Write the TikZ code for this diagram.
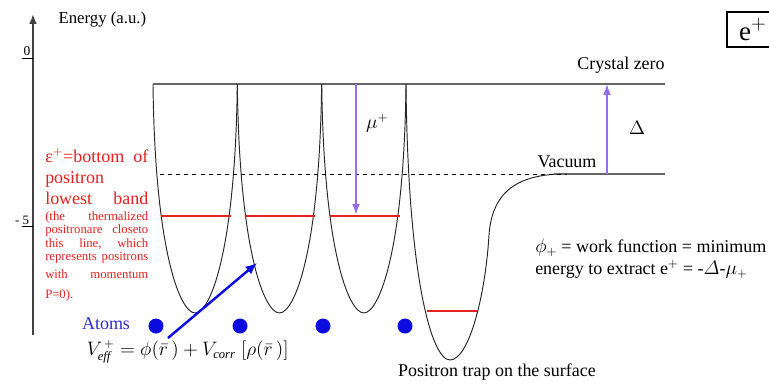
\documentclass[tikz,border=0pt]{standalone}
\usepackage{amsmath}
\usepackage{fontspec}
\setmainfont{Liberation Serif}
\usetikzlibrary{arrows.meta}
\definecolor{bandred}{RGB}{228,32,32}
\definecolor{levelviolet}{RGB}{150,108,240}
\definecolor{atomblue}{RGB}{12,12,222}
\definecolor{atomtext}{RGB}{45,45,200}
\begin{document}
\begin{tikzpicture}[font=\fontsize{13.3}{16}\selectfont,wellwall/.style={draw=black!85,line width=0.7pt},levelline/.style={draw=black!60,line width=0.9pt},bandline/.style={draw=bandred,line width=1.5pt},levelshift/.style={draw=levelviolet,line width=1.1pt,-{Latex[length=2.8mm,width=2mm]}},atom/.style={circle,fill=atomblue,inner sep=0pt,minimum size=0.39cm},redtext/.style={anchor=north west,text width=2.68cm,inner sep=0pt,text=bandred}]
\useasboundingbox (0,0) rectangle (20,10.117);
\coordinate (axbot) at (0.858,1.404);
\coordinate (axtop) at (0.858,9.753);
\draw[line width=1.3pt,black!75,-{Latex[length=2.6mm,width=2mm]}] (axbot)--(axtop);
\node (energy) [anchor=west,font=\fontsize{12.4}{14}\selectfont] at (1.40,9.60) {Energy (a.u.)};
\node (zero) [anchor=south,inner sep=1pt,font=\fontsize{10}{12}\selectfont] at (0.70,8.62) {0};
\draw[line width=0.6pt] (0.572,8.61)--(0.858,8.61);
\node (minusfive) [anchor=south east,inner sep=1pt,font=\fontsize{9.5}{11}\selectfont] at (0.80,4.22) {- 5};
\draw[line width=0.6pt] (0.572,4.24)--(0.858,4.24);
\draw[levelline] (3.979,7.932)--(17.295,7.932);
\foreach \x in {3.979,6.172,8.367}{
  \draw[wellwall] (\x,7.932) .. controls (\x+0.05,3.61) and (\x+0.70,1.977) .. (\x+1.096,1.977) .. controls (\x+1.493,1.977) and (\x+2.143,3.61) .. (\x+2.193,7.932);
  \draw[bandline] (\x+0.21,4.499)--(\x+2.03,4.499);
}
\draw[wellwall] (10.559,7.932) .. controls (10.611,2.835) and (11.235,0.754) .. (11.704,0.754) .. controls (12.172,0.754) and (12.614,2.315) .. (12.718,4.005) .. controls (12.796,5.176) and (13.524,5.592) .. (14.694,5.592);
\draw[levelline] (14.4,5.592)--(17.295,5.592);
\draw[dashed,line width=0.7pt] (4.161,5.592)--(14.746,5.592);
\draw[bandline] (11.105,2.029)--(12.406,2.029);
\node (czlabel) at (16.151,8.427) {Crystal zero};
\node (vaclabel) at (14.746,5.904) {Vacuum};
\coordinate (mutop) at (9.259,7.932);
\coordinate (mubot) at (9.259,4.53);
\draw[levelshift] (mutop)--(mubot);
\node (mulabel) at (9.805,6.918) {$\mu^{+}$};
\coordinate (vacpt) at (15.787,5.592);
\coordinate (czpt) at (15.787,7.932);
\draw[levelshift] (vacpt)--(czpt);
\node (deltalabel) at (16.567,6.788) {$\Delta$};
\node (eplus) [draw,line width=1.5pt,minimum width=1.35cm,minimum height=0.91cm,anchor=west,font=\fontsize{20}{24}\selectfont] at (18.882,9.350) {e$^{+}$};
\node (workfn) [anchor=north west,align=left,inner sep=0pt,font=\fontsize{13.3}{16.2}\selectfont] at (13.914,3.901) {$\phi_{+}$ = work function = minimum\\energy to extract e$^{+}$ = -$\varDelta$-$\mu_{+}$};
\node (traplabel) at (12.926,0.442) {Positron trap on the surface};
\foreach \x [count=\i] in {4.057,6.242,8.401,10.533} \node[atom] (atom\i) at (\x,1.638) {};
\node (atomlabel) [text=atomtext] at (2.757,1.690) {Atoms};
\node (veff) [anchor=west] at (2.133,0.962) {$V^{\,+}_{\mathit{eff}} = \phi(\bar{r}\,)+ V_{\mathit{corr}}\;[\rho(\bar{r}\,)]$};
\coordinate (vtail) at (4.369,1.326);
\coordinate (vhead) at (6.684,3.277);
\draw[line width=1.8pt,atomblue,-{Latex[length=3mm,width=2.6mm]}] (vtail)--(vhead);
\node (bandlabel) [redtext,font=\fontsize{13.3}{15.5}\selectfont] at (1.17,6.268) {ε$^{+}$=bottom\hfill of\\positron\\lowest\hfill band};
\node (bandnote) [redtext,font=\fontsize{9.4}{10}\selectfont] at (1.17,4.629) {(the\hfill thermalized\\positronare\hfill closeto\\this\hfill line,\hfill which\\represents\hfill positrons\\[3pt]with\hfill momentum\\[5pt]P=0).};
\end{tikzpicture}
\end{document}
